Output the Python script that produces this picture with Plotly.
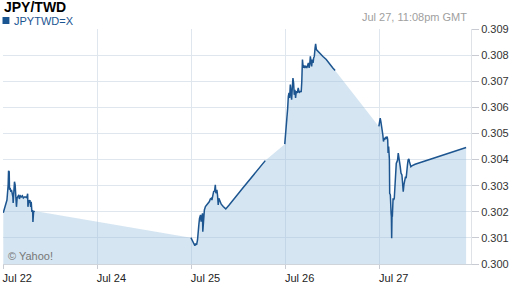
import plotly.graph_objects as go

# ---- data (x in "session days": 0=Jul 22, 1=Jul 24, 2=Jul 25, 3=Jul 26, 4=Jul 27) ----
tick_vals = [0, 1, 2, 3, 4]
tick_text = ["Jul 22", "Jul 24", "Jul 25", "Jul 26", "Jul 27"]

jul22_x = [0.000, 0.010, 0.021, 0.031, 0.039, 0.045, 0.052, 0.056, 0.063, 0.066, 0.073, 0.081,
           0.087, 0.094, 0.102, 0.105, 0.112, 0.119, 0.126, 0.133, 0.140, 0.147, 0.154, 0.165,
           0.171, 0.182, 0.192, 0.203, 0.213, 0.224, 0.238, 0.249, 0.259, 0.262, 0.270, 0.276,
           0.283, 0.291, 0.297, 0.304, 0.312, 0.315, 0.322, 0.333]
jul22_y = [0.30196, 0.30211, 0.30219, 0.30234, 0.30245, 0.30272, 0.30303, 0.30357, 0.30353, 0.30284,
           0.30292, 0.30276, 0.30284, 0.30272, 0.30257, 0.30234, 0.30284, 0.30315, 0.30303, 0.30272,
           0.30219, 0.30253, 0.30257, 0.30265, 0.30249, 0.30261, 0.30257, 0.30261, 0.30253, 0.30257,
           0.30257, 0.30253, 0.30269, 0.30219, 0.30245, 0.30234, 0.30245, 0.30219, 0.30238, 0.30199,
           0.30207, 0.30161, 0.30199, 0.30203]

jul25_x = [1.994, 2.015, 2.025, 2.036, 2.043, 2.054, 2.064, 2.070, 2.078, 2.085, 2.096, 2.102,
           2.109, 2.117, 2.120, 2.127, 2.137, 2.148, 2.162, 2.172, 2.183, 2.190, 2.200, 2.211,
           2.217, 2.225, 2.235, 2.246, 2.253, 2.259, 2.270, 2.277, 2.284, 2.291, 2.301, 2.316,
           2.337, 2.364, 2.400, 2.434, 2.469, 2.505, 2.539, 2.784]
jul25_y = [0.30101, 0.30086, 0.30077, 0.30070, 0.30079, 0.30073, 0.30092, 0.30143, 0.30150, 0.30175,
           0.30188, 0.30162, 0.30175, 0.30194, 0.30124, 0.30175, 0.30207, 0.30220, 0.30226, 0.30233,
           0.30237, 0.30239, 0.30249, 0.30252, 0.30245, 0.30265, 0.30277, 0.30280, 0.30303, 0.30271,
           0.30284, 0.30262, 0.30226, 0.30252, 0.30239, 0.30229, 0.30220, 0.30211, 0.30226, 0.30242,
           0.30258, 0.30275, 0.30288, 0.30396]

jul26_x = [2.991, 3.001, 3.008, 3.019, 3.022, 3.029, 3.036, 3.043, 3.050, 3.057, 3.064, 3.071,
           3.078, 3.085, 3.092, 3.099, 3.106, 3.113, 3.124, 3.134, 3.145, 3.155, 3.166, 3.172,
           3.179, 3.187, 3.193, 3.204, 3.214, 3.225, 3.232, 3.242, 3.250, 3.256, 3.263, 3.271,
           3.277, 3.284, 3.292, 3.298, 3.305, 3.313, 3.319, 3.327, 3.344, 3.361, 3.397, 3.432,
           3.466, 3.502, 3.526]
jul26_y = [0.30459, 0.30495, 0.30540, 0.30559, 0.30597, 0.30642, 0.30655, 0.30636, 0.30687, 0.30661,
           0.30629, 0.30674, 0.30712, 0.30693, 0.30648, 0.30667, 0.30636, 0.30661, 0.30655, 0.30674,
           0.30655, 0.30661, 0.30661, 0.30699, 0.30783, 0.30751, 0.30761, 0.30751, 0.30757, 0.30751,
           0.30763, 0.30770, 0.30751, 0.30763, 0.30795, 0.30776, 0.30757, 0.30783, 0.30770, 0.30789,
           0.30795, 0.30827, 0.30843, 0.30821, 0.30814, 0.30808, 0.30795, 0.30783, 0.30766, 0.30751,
           0.30741]

jul27_x = [3.991, 3.998, 4.005, 4.012, 4.019, 4.026, 4.033, 4.040, 4.047, 4.053, 4.061, 4.071,
           4.079, 4.085, 4.089, 4.095, 4.103, 4.106, 4.113, 4.121, 4.124, 4.127, 4.131, 4.134,
           4.142, 4.148, 4.155, 4.163, 4.169, 4.176, 4.184, 4.190, 4.197, 4.204, 4.211, 4.218,
           4.226, 4.236, 4.243, 4.250, 4.257, 4.264, 4.274, 4.281, 4.289, 4.295, 4.302, 4.310,
           4.316, 4.323, 4.331, 4.341, 4.358, 4.376, 4.918]
jul27_y = [0.30527, 0.30546, 0.30559, 0.30546, 0.30533, 0.30514, 0.30495, 0.30469, 0.30482, 0.30476,
           0.30486, 0.30482, 0.30488, 0.30476, 0.30425, 0.30450, 0.30399, 0.30271, 0.30265, 0.30194,
           0.30181, 0.30099, 0.30194, 0.30181, 0.30252, 0.30245, 0.30252, 0.30322, 0.30354, 0.30386,
           0.30392, 0.30399, 0.30425, 0.30412, 0.30386, 0.30373, 0.30348, 0.30341, 0.30310, 0.30277,
           0.30303, 0.30322, 0.30335, 0.30329, 0.30348, 0.30380, 0.30399, 0.30402, 0.30392, 0.30384,
           0.30373, 0.30376, 0.30379, 0.30382, 0.30446]

segments = [(jul22_x, jul22_y), (jul25_x, jul25_y), (jul26_x, jul26_y), (jul27_x, jul27_y)]

# ---- build traces ----
fill_x, fill_y, line_x, line_y = [], [], [], []
for sx, sy in segments:
    fill_x += sx
    fill_y += sy
    line_x += sx + [None]
    line_y += sy + [None]

LINE = "#1c5590"
GRID = "#dfe6ee"

fig = go.Figure()
fig.add_trace(go.Scatter(x=fill_x, y=fill_y, mode="lines", line=dict(width=0),
                         fill="tozeroy", fillcolor="rgba(150,190,220,0.40)",
                         hoverinfo="skip", showlegend=False))
fig.add_trace(go.Scatter(x=line_x, y=line_y, mode="lines", connectgaps=False,
                         line=dict(color=LINE, width=1.5), hoverinfo="skip",
                         showlegend=False))

W, H = 512, 288
L, R, T, B = 3, 35, 29, 24
pw, ph = W - L - R, H - T - B


def px(xp):
    return (xp - L) / pw


def py(yp):
    return (H - B - yp) / ph


FONT = "Liberation Sans, Arial, sans-serif"

fig.update_layout(
    width=W, height=H,
    margin=dict(l=L, r=R, t=T, b=B, pad=0),
    paper_bgcolor="white", plot_bgcolor="white",
    font=dict(family=FONT, size=11, color="#222222"),
    xaxis=dict(range=[-0.003, 4.97], tickvals=tick_vals, ticktext=tick_text,
               ticks="outside", ticklen=4, tickcolor="#c8ccd2",
               showgrid=True, gridcolor=GRID, gridwidth=1,
               showline=True, linecolor="#cfd4da", linewidth=1,
               zeroline=False, ticklabelshift=14,
               tickfont=dict(size=11, color="#222222"), fixedrange=True),
    yaxis=dict(range=[0.300, 0.309], dtick=0.001, tick0=0.300, tickformat=".3f",
               side="right", ticks="outside", ticklen=7, tickcolor="#c8ccd2",
               showgrid=True, gridcolor=GRID, gridwidth=1,
               showline=True, linecolor="#dfe3e8", linewidth=1,
               zeroline=False, tickfont=dict(size=11, color="#333333"),
               fixedrange=True),
    shapes=[dict(type="rect", xref="paper", yref="paper",
                 x0=px(2.5), x1=px(9.5), y0=py(24), y1=py(17),
                 fillcolor="#1a5491", line=dict(width=0))],
    annotations=[
        dict(text="<b>JPY/TWD</b>", xref="paper", yref="paper", x=px(1.5), y=py(6.5),
             xanchor="left", yanchor="middle", showarrow=False,
             font=dict(size=14, color="#000000", family=FONT)),
        dict(text="JPYTWD=X", xref="paper", yref="paper", x=px(12.5), y=py(21),
             xanchor="left", yanchor="middle", showarrow=False,
             font=dict(size=11, color="#1a5491", family=FONT)),
        dict(text="Jul 27, 11:08pm GMT", xref="paper", yref="paper", x=px(474.5), y=py(16.5),
             xanchor="right", yanchor="middle", showarrow=False,
             font=dict(size=11, color="#a0a0a0", family=FONT)),
        dict(text="© Yahoo!", xref="paper", yref="paper", x=px(6.5), y=py(256),
             xanchor="left", yanchor="middle", showarrow=False,
             font=dict(size=11, color="#777777", family=FONT)),
    ],
)

fig.write_html("out.html", config={"displayModeBar": False})
